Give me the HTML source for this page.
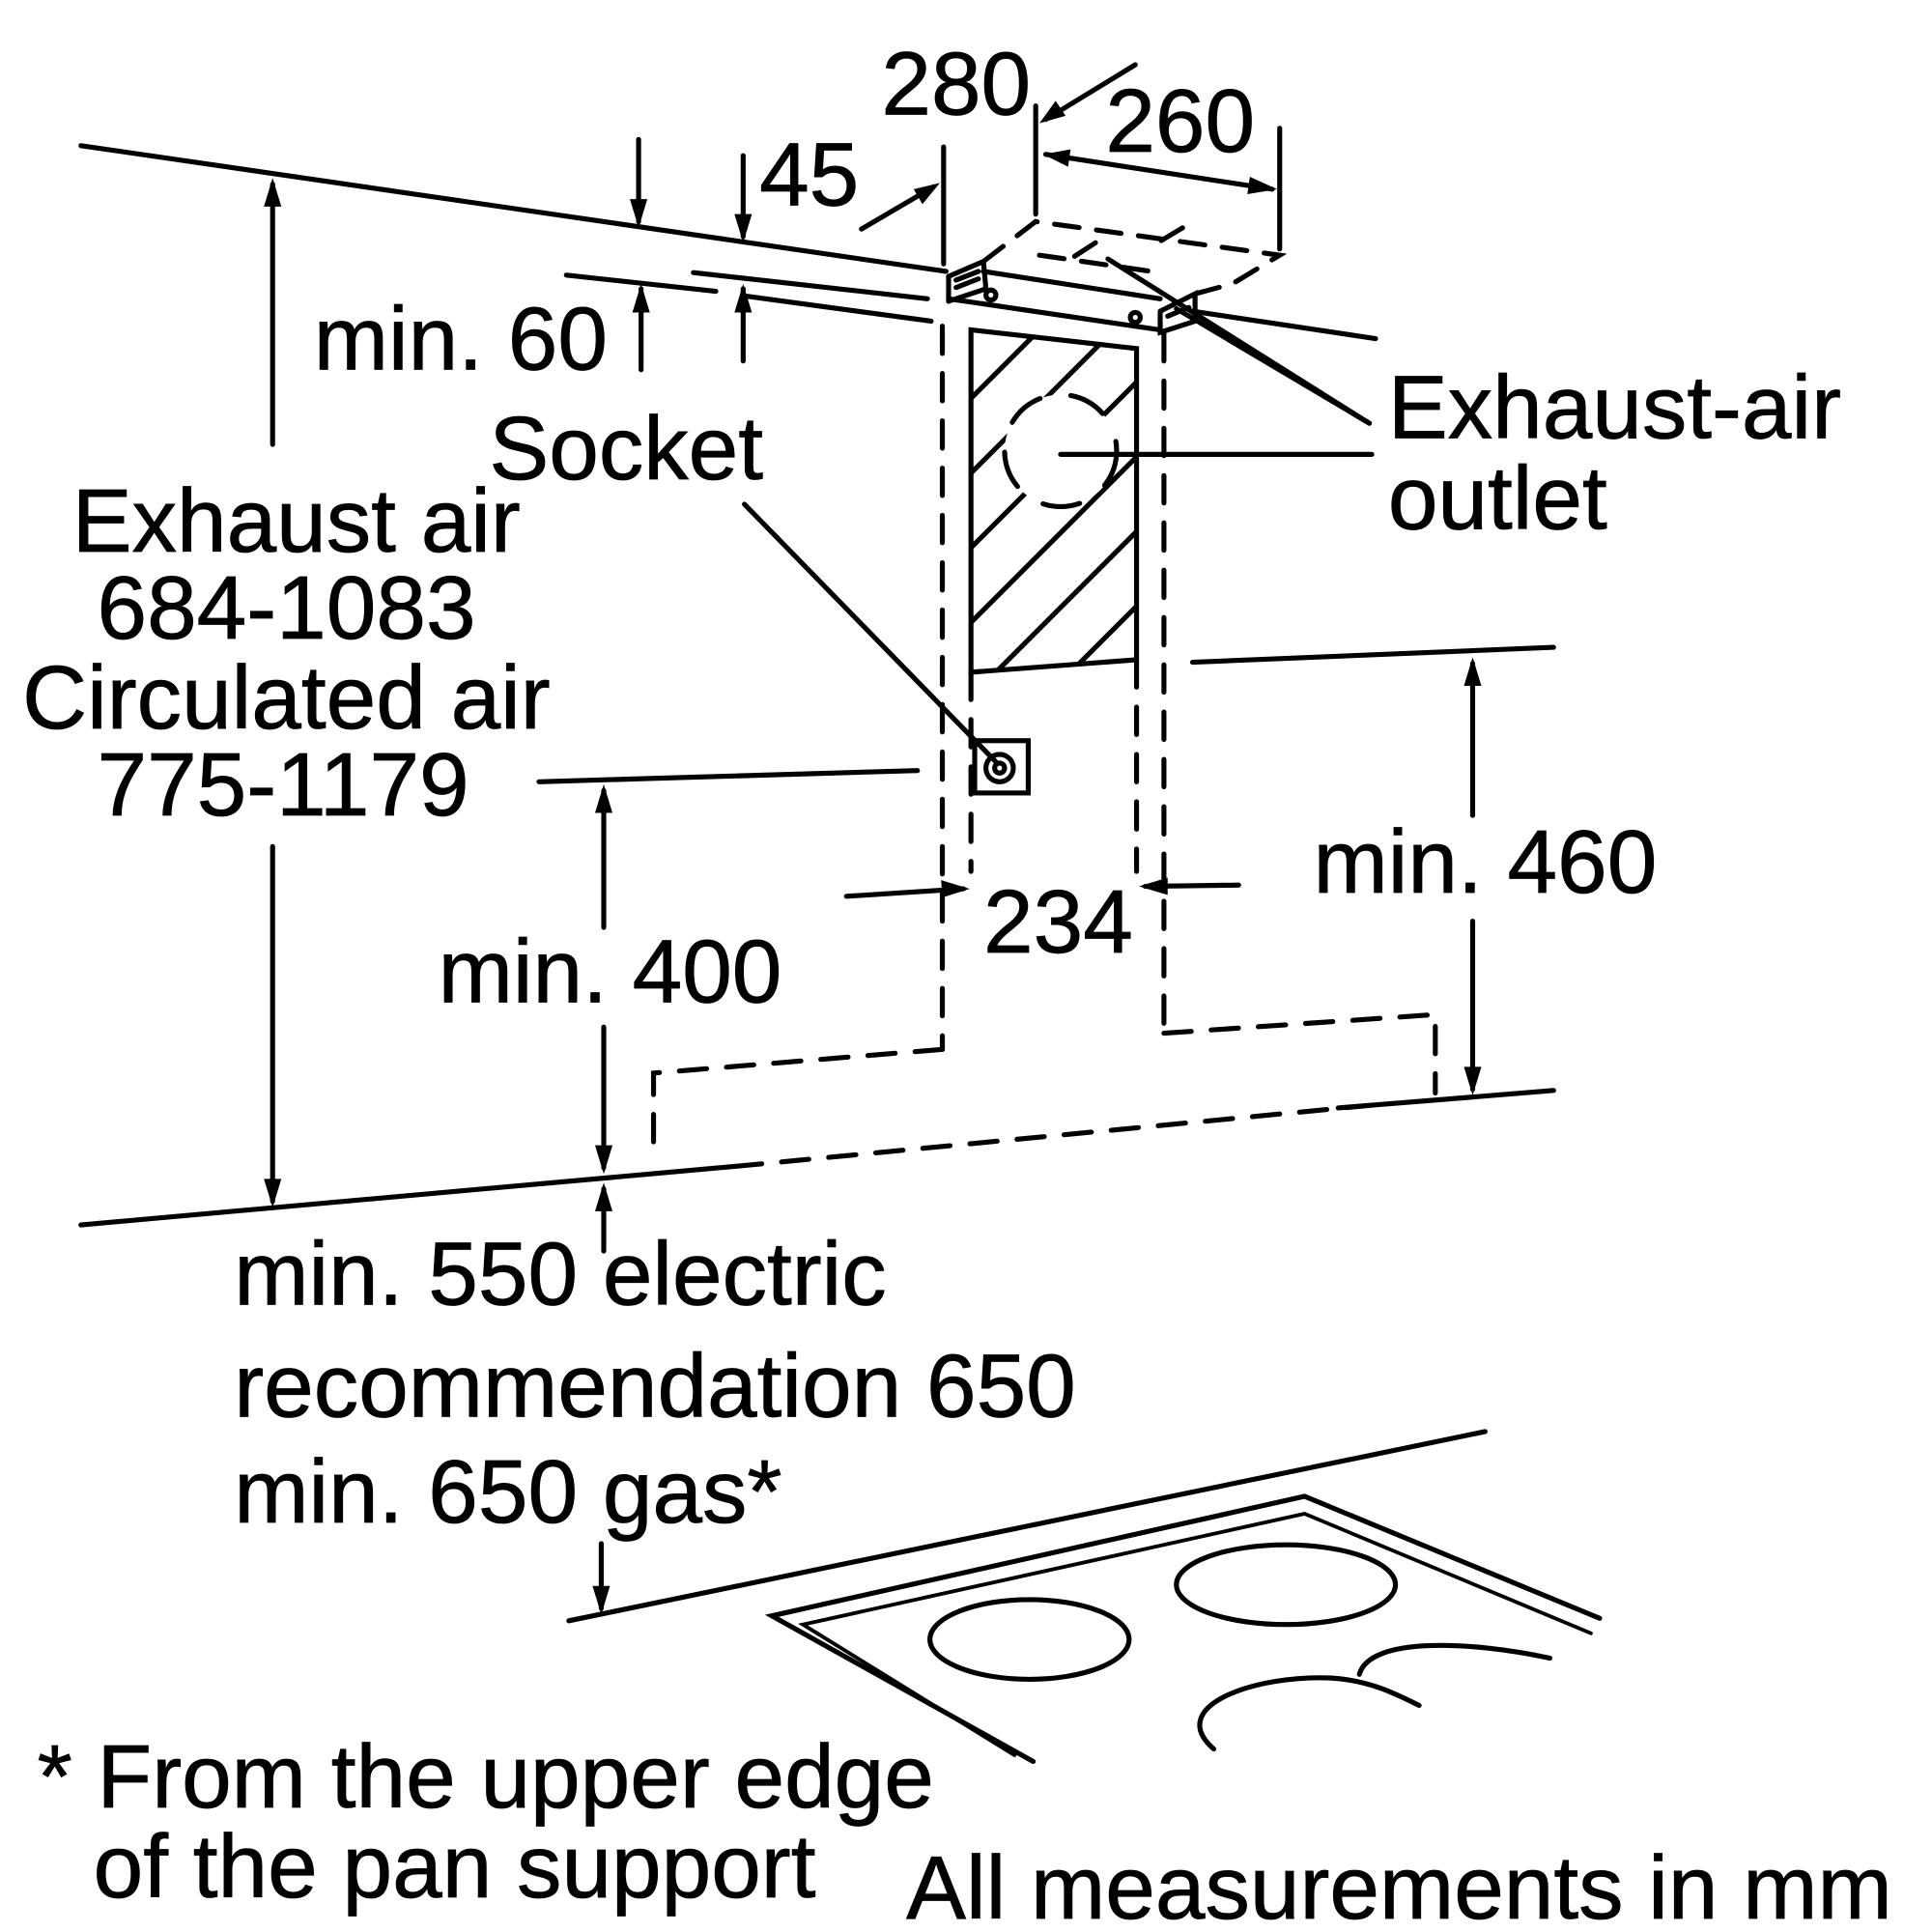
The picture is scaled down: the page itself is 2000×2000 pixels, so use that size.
<!DOCTYPE html>
<html><head><meta charset="utf-8"><style>
html,body{margin:0;padding:0;background:#fff;}
svg{display:block;}
text{font-family:"Liberation Sans",Arial,sans-serif;font-size:72px;fill:#000;stroke:#000;stroke-width:0.6;}
</style></head><body>
<svg width="2000" height="2000" viewBox="0 0 1552 1552" xmlns="http://www.w3.org/2000/svg">
<defs>
<clipPath id="hc"><polygon points="780,265 913,280 913,530 780,540"/></clipPath>
</defs>
<g stroke="#000" stroke-width="4" fill="none" stroke-linecap="round">
<line x1="65" y1="117" x2="760" y2="218"/>
<line x1="958" y1="250" x2="1105" y2="272"/>
<line x1="455" y1="221" x2="575" y2="234"/>
<line x1="557" y1="219" x2="745" y2="240"/>
<line x1="600" y1="238" x2="748" y2="258"/>
<line x1="762" y1="240" x2="932" y2="265"/>
<line x1="762" y1="222" x2="762" y2="242"/>
<polyline points="762,222 790,210 792,232 762,242"/>
<line x1="768" y1="225" x2="786" y2="218"/>
<line x1="768" y1="231" x2="786" y2="224"/>
<polyline points="932,250 960,236 960,258 932,267 932,250"/>
<line x1="938" y1="254" x2="955" y2="247"/>
<line x1="790" y1="218" x2="932" y2="240"/>
<circle cx="796" cy="237" r="4"/>
<circle cx="912" cy="255" r="4"/>
<g stroke-dasharray="20,14">
<polyline points="790,210 832,178 1028,205 990,228 960,236"/>
<line x1="835" y1="205" x2="925" y2="218"/>
<line x1="880" y1="195" x2="860" y2="208"/>
<line x1="950" y1="183" x2="930" y2="195"/>
</g>
<polygon points="780,265 913,280 913,530 780,540"/>
<g clip-path="url(#hc)">
<line x1="700" y1="400" x2="860" y2="240"/>
<line x1="700" y1="460" x2="920" y2="240"/>
<line x1="700" y1="520" x2="980" y2="240"/>
<line x1="700" y1="580" x2="1040" y2="240"/>
<line x1="740" y1="600" x2="1100" y2="240"/>
<line x1="800" y1="600" x2="1160" y2="240"/>
<line x1="860" y1="600" x2="1220" y2="240"/>
<circle cx="852" cy="362" r="45" fill="#fff" stroke="none"/>
<circle cx="852" cy="362" r="45" stroke-dasharray="30,25"/>
</g>
<g stroke-dasharray="22,16">
<line x1="757" y1="262" x2="757" y2="843"/>
<line x1="935" y1="268" x2="935" y2="830"/>
<line x1="780" y1="540" x2="780" y2="700"/>
<line x1="913" y1="530" x2="913" y2="700"/>
<polyline points="757,843 525,862 525,930"/>
<polyline points="935,830 1153,815 1153,878"/>
<line x1="590" y1="937" x2="1100" y2="888"/>
</g>
<line x1="65" y1="984" x2="590" y2="937"/>
<line x1="1075" y1="890" x2="1248" y2="876"/>
<rect x="783" y="595" width="43" height="42"/>
<circle cx="803" cy="617" r="11"/>
<circle cx="803" cy="617" r="4"/>
<line x1="598" y1="405" x2="800" y2="612"/>
<line x1="852" y1="365" x2="1102" y2="365"/>
<line x1="890" y1="208" x2="1100" y2="340"/>
<line x1="945" y1="248" x2="1100" y2="340"/>
<line x1="758" y1="118" x2="758" y2="212"/>
<line x1="832" y1="85" x2="832" y2="172"/>
<line x1="1028" y1="103" x2="1028" y2="200"/>
<line x1="692" y1="184" x2="750" y2="150"/>
<line x1="912" y1="52" x2="840" y2="96"/>
<line x1="840" y1="124" x2="1022" y2="152"/>
<line x1="513" y1="112" x2="513" y2="178"/>
<line x1="597" y1="125" x2="597" y2="190"/>
<line x1="515" y1="297" x2="515" y2="232"/>
<line x1="597" y1="290" x2="597" y2="232"/>
<line x1="219" y1="148" x2="219" y2="357"/>
<line x1="219" y1="680" x2="219" y2="965"/>
<line x1="433" y1="628" x2="737" y2="619"/>
<line x1="485" y1="635" x2="485" y2="745"/>
<line x1="485" y1="825" x2="485" y2="938"/>
<line x1="485" y1="955" x2="485" y2="1005"/>
<line x1="958" y1="532" x2="1248" y2="520"/>
<line x1="1183" y1="533" x2="1183" y2="655"/>
<line x1="1183" y1="740" x2="1183" y2="875"/>
<line x1="680" y1="720" x2="774" y2="714"/>
<line x1="995" y1="711" x2="920" y2="712"/>
<line x1="483" y1="1240" x2="483" y2="1292"/>
<line x1="457" y1="1302" x2="1193" y2="1150"/>
<polyline points="830,1415 620,1298 1048,1202 1285,1300"/>
<polyline points="815,1410 645,1305 1048,1216 1278,1312" stroke-width="3"/>
<ellipse cx="827" cy="1317" rx="80" ry="32"/>
<ellipse cx="1033" cy="1273" rx="88" ry="32"/>
<path d="M1092,1345 C1100,1315 1180,1318 1245,1332"/>
<path d="M975,1405 C935,1370 1010,1345 1070,1348 C1100,1350 1120,1360 1140,1370"/>
</g>
<g fill="#000">
<polygon points="513,183 506,160 520,160"/>
<polygon points="597,195 590,172 604,172"/>
<polygon points="515,228 508,251 522,251"/>
<polygon points="597,228 590,251 604,251"/>
<polygon points="219,143 212,166 226,166"/>
<polygon points="219,970 212,947 226,947"/>
<polygon points="485,630 478,653 492,653"/>
<polygon points="485,943 478,920 492,920"/>
<polygon points="485,950 478,973 492,973"/>
<polygon points="1183,528 1176,551 1190,551"/>
<polygon points="1183,880 1176,857 1190,857"/>
<polygon points="779,714 756,707 757,721"/>
<polygon points="915,712 938,705 938,719"/>
<polygon points="755,147 734,152 741,164"/>
<polygon points="835,99 848,81 856,93"/>
<polygon points="838,124 860,120 858,134"/>
<polygon points="1026,152 1004,142 1002,156"/>
<polygon points="483,1297 476,1274 490,1274"/>
</g>
<text x="708" y="92">280</text>
<text x="888" y="122">260</text>
<text x="610" y="165">45</text>
<text x="252" y="297">min. 60</text>
<text x="393" y="385">Socket</text>
<text x="58" y="443">Exhaust air</text>
<text x="78" y="513">684-1083</text>
<text x="18" y="585">Circulated air</text>
<text x="78" y="655">775-1179</text>
<text x="1115" y="352">Exhaust-air</text>
<text x="1115" y="425">outlet</text>
<text x="1055" y="717">min. 460</text>
<text x="790" y="765">234</text>
<text x="352" y="805">min. 400</text>
<text x="188" y="1048">min. 550 electric</text>
<text x="188" y="1138">recommendation 650</text>
<text x="188" y="1223">min. 650 gas*</text>
<text x="30" y="1452">* From the upper edge</text>
<text x="75" y="1524">of the pan support</text>
<text x="728" y="1541">All measurements in mm</text>
</svg>
</body></html>
